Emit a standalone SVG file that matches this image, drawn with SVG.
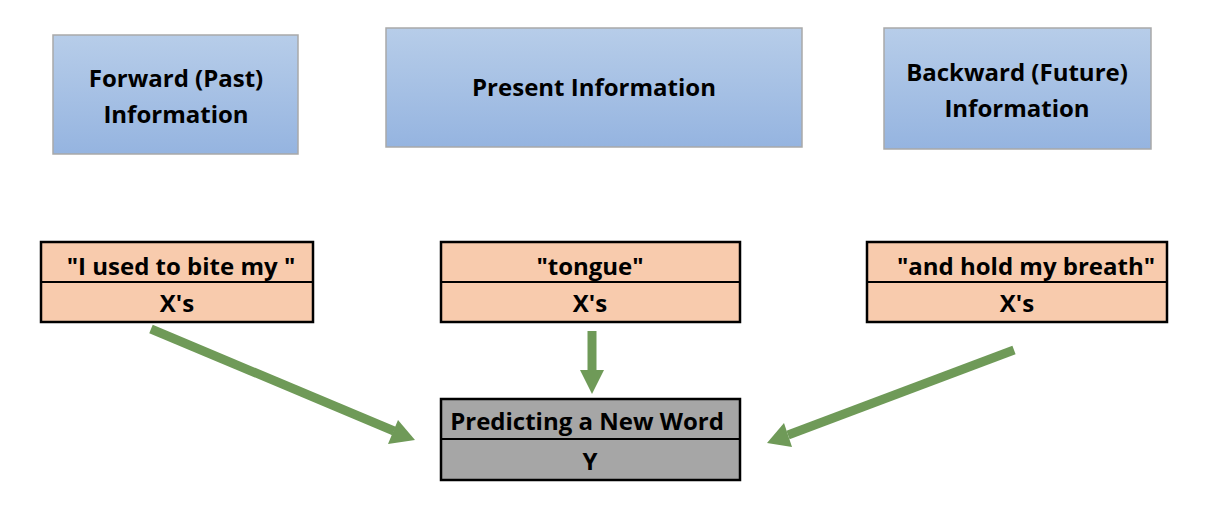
<svg xmlns="http://www.w3.org/2000/svg" width="1224" height="519" viewBox="0 0 1224 519">
<defs>
<linearGradient id="blue" x1="0" y1="0" x2="0" y2="1">
<stop offset="0" stop-color="#b7cde9"/>
<stop offset="1" stop-color="#95b4e0"/>
</linearGradient>
<style>
.hdr{fill:url(#blue);stroke:#a9a9a9;stroke-width:1.5}
.pe{fill:#f8cbad;stroke:#000;stroke-width:2.5}
.gr{fill:#a6a6a6;stroke:#000;stroke-width:2.5}
.ln{stroke:#000;stroke-width:2}
text{font-family:"Open Sans","Liberation Sans",sans-serif;font-weight:bold;font-size:24px;fill:#000;text-anchor:middle}
.arr{stroke:#6f9a58;stroke-width:9;fill:none}
.head{fill:#6f9a58}
</style>
</defs>
<rect width="1224" height="519" fill="#fff"/>
<g id="forward-info">
<rect class="hdr" x="53" y="35" width="245" height="119"/>
<text x="176" y="87">Forward (Past)</text>
<text x="176" y="123">Information</text>
</g>
<g id="present-info">
<rect class="hdr" x="386" y="28" width="416" height="119"/>
<text x="594" y="96">Present Information</text>
</g>
<g id="backward-info">
<rect class="hdr" x="884" y="28" width="267" height="121"/>
<text x="1017" y="81">Backward (Future)</text>
<text x="1017" y="117">Information</text>
</g>
<g id="past-words">
<rect class="pe" x="41" y="242" width="272" height="80"/>
<line class="ln" x1="41" y1="282" x2="313" y2="282"/>
<text x="181" y="275">"I used to bite my "</text>
<text x="177" y="312">X's</text>
</g>
<g id="present-word">
<rect class="pe" x="441" y="242" width="299" height="80"/>
<line class="ln" x1="441" y1="282" x2="740" y2="282"/>
<text x="590" y="275">"tongue"</text>
<text x="590" y="312">X's</text>
</g>
<g id="future-words">
<rect class="pe" x="867" y="242" width="300" height="80"/>
<line class="ln" x1="867" y1="282" x2="1167" y2="282"/>
<text x="1026" y="275">"and hold my breath"</text>
<text x="1017" y="312">X's</text>
</g>
<g id="prediction">
<rect class="gr" x="441" y="399" width="299" height="81"/>
<line class="ln" x1="441" y1="439" x2="740" y2="439"/>
<text x="587" y="430">Predicting a New Word</text>
<text x="590" y="470">Y</text>
</g>
<g id="connectors">
<line class="arr" x1="151" y1="329" x2="394" y2="431"/>
<polygon class="head" points="415,440 388,444 398,420"/>
<line class="arr" x1="592" y1="331" x2="592" y2="372"/>
<polygon class="head" points="592,394 580,370 604,370"/>
<line class="arr" x1="1014" y1="350" x2="788" y2="435"/>
<polygon class="head" points="767,443 784,423 792,447"/>
</g>
</svg>
